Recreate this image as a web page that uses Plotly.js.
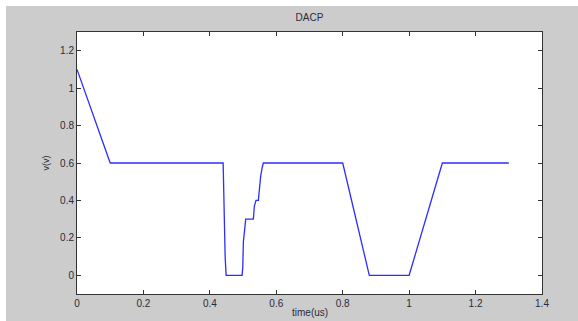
<!DOCTYPE html>
<html>
<head>
<meta charset="utf-8">
<script src="https://cdn.plot.ly/plotly-3.0.1.min.js"></script>
<style>
html,body{margin:0;padding:0;background:#ffffff;width:578px;height:321px;overflow:hidden;}
#chart{position:absolute;left:6px;top:6px;width:572px;height:315px;}
</style>
</head>
<body>
<div id="chart"></div>
<script>
// time in microseconds
var timeUs = [0, 0.1, 0.44, 0.441, 0.443, 0.446, 0.449, 0.497, 0.499, 0.501, 0.508, 0.531, 0.534, 0.539, 0.546, 0.548, 0.553, 0.558, 0.561, 0.8, 0.88, 1.0, 1.1, 1.3];
// voltage
var voltage = [1.1, 0.6, 0.6, 0.5, 0.3, 0.1, 0, 0, 0.04, 0.18, 0.3, 0.3, 0.37, 0.4, 0.4, 0.44, 0.53, 0.58, 0.6, 0.6, 0, 0, 0.6, 0.6];
var xTicks = [0, 0.2, 0.4, 0.6, 0.8, 1, 1.2, 1.4];
var yTicks = [0, 0.2, 0.4, 0.6, 0.8, 1, 1.2];

var fontFam = 'Liberation Sans, Arial, sans-serif';
var trace = {
  x: timeUs, y: voltage, type: 'scatter', mode: 'lines',
  line: {color: 'rgb(45,45,255)', width: 1.3}
};
var axisCommon = {
  showline: true, linecolor: '#333', linewidth: 1, mirror: 'ticks',
  ticks: 'inside', ticklen: 4, tickcolor: '#333', tickwidth: 1,
  showgrid: false, zeroline: false,
  tickfont: {family: fontFam, size: 10, color: '#2a2a3a'}
};
var layout = {
  width: 572, height: 315,
  margin: {l: 71, r: 36, t: 26, b: 27},
  paper_bgcolor: '#cccccc', plot_bgcolor: '#ffffff',
  showlegend: false,
  title: {text: 'DACP', x: 0.5, xref: 'paper', xanchor: 'center', y: 0.965, yref: 'container', yanchor: 'middle',
          font: {family: fontFam, size: 10, color: '#2a2a3a'}},
  xaxis: Object.assign({}, axisCommon, {
    range: [0, 1.4], tickvals: xTicks, ticktext: xTicks.map(String)
  }),
  yaxis: Object.assign({}, axisCommon, {
    range: [-0.1, 1.3], tickvals: yTicks, ticktext: yTicks.map(String),
    title: {text: 'v(v)', font: {family: fontFam, size: 9, color: '#2a2a3a'}}
  }),
  annotations: [{
    text: 'time(us)', xref: 'paper', yref: 'paper', x: 0.5, y: -0.072,
    xanchor: 'center', yanchor: 'middle', showarrow: false,
    font: {family: fontFam, size: 10, color: '#2a2a3a'}
  }]
};
Plotly.newPlot('chart', [trace], layout, {displayModeBar: false, staticPlot: true});
</script>
</body>
</html>
